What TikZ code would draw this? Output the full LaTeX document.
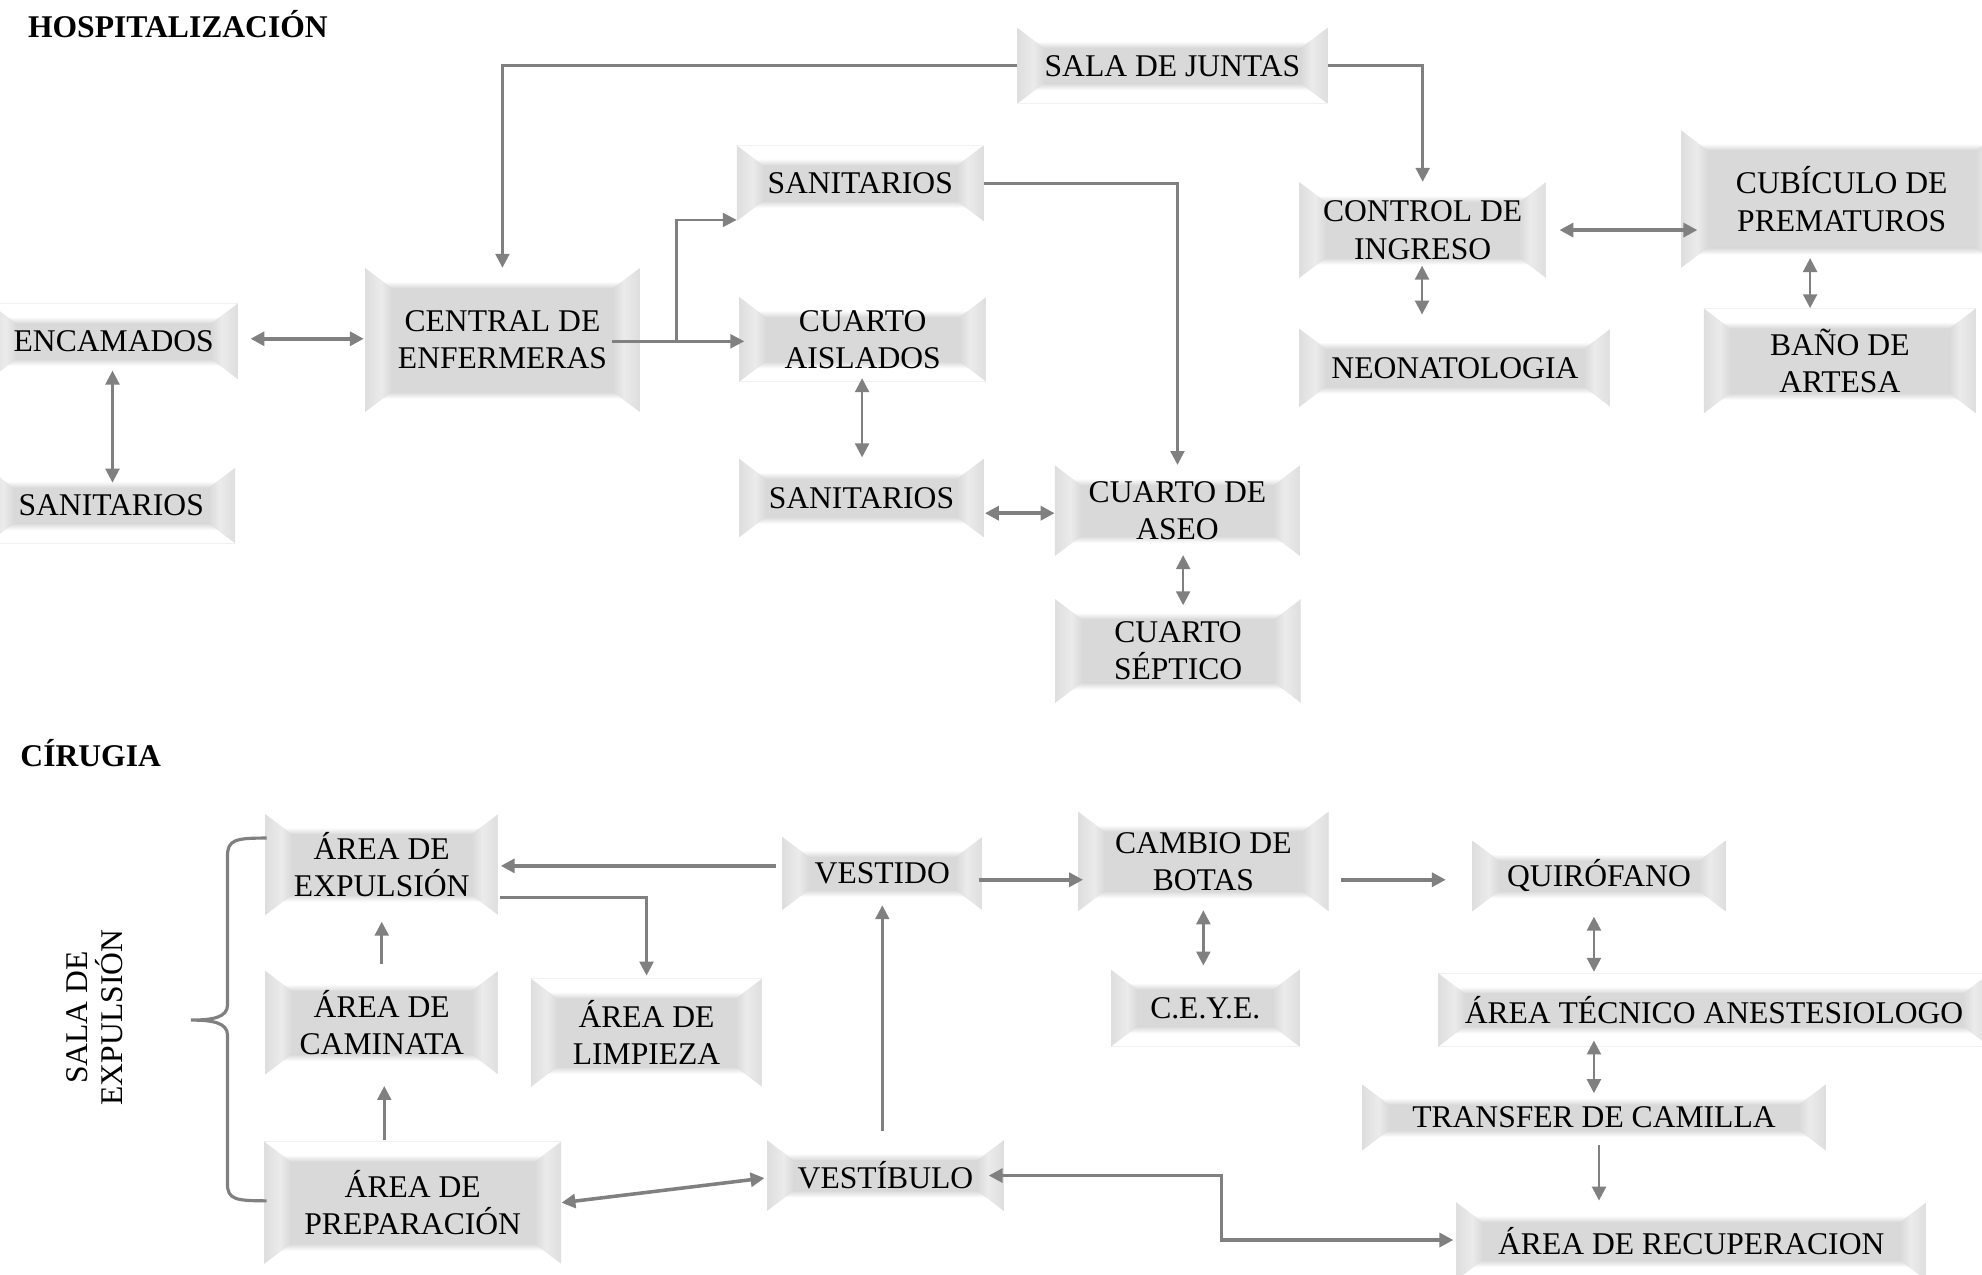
\documentclass[tikz,border=0pt]{standalone}
\usepackage{fontspec}
\setmainfont{Liberation Serif}
\usetikzlibrary{arrows.meta,calc}

\definecolor{boxgray}{RGB}{217,217,217}
\definecolor{sideout}{RGB}{222,222,222}
\definecolor{sidemid}{RGB}{235,235,235}
\definecolor{linegray}{RGB}{128,128,128}

% colour ramps for the four bevel bands (the band itself spans 25bp..75bp)
\pgfdeclareverticalshading{bandtop}{100bp}{color(0bp)=(boxgray); color(25bp)=(boxgray); color(42bp)=(white); color(100bp)=(white)}
\pgfdeclareverticalshading{bandbottom}{100bp}{color(0bp)=(white); color(58bp)=(white); color(75bp)=(boxgray); color(100bp)=(boxgray)}
\pgfdeclarehorizontalshading{bandleft}{100bp}{color(0bp)=(sideout); color(25bp)=(sideout); color(55bp)=(sidemid); color(75bp)=(boxgray); color(100bp)=(boxgray)}
\pgfdeclarehorizontalshading{bandright}{100bp}{color(0bp)=(boxgray); color(25bp)=(boxgray); color(45bp)=(sidemid); color(75bp)=(sideout); color(100bp)=(sideout)}

% Bevelled panel: flat grey centre, grey side bands, white top/bottom bands with a soft edge
\newcommand\bevelpaint{%
  \fill[boxgray] let \p1=(path picture bounding box.south west), \p2=(path picture bounding box.north east)
    in (\x1,\y1) rectangle (\x2,\y2);
  \shade[shading=bandleft] let \p1=(path picture bounding box.south west), \p2=(path picture bounding box.north east)
    in (\x1,\y1) -- (\x1+21pt,\y1+16pt) -- (\x1+21pt,\y2-16pt) -- (\x1,\y2) -- cycle;
  \shade[shading=bandright] let \p1=(path picture bounding box.south west), \p2=(path picture bounding box.north east)
    in (\x2,\y1) -- (\x2-21pt,\y1+16pt) -- (\x2-21pt,\y2-16pt) -- (\x2,\y2) -- cycle;
  \shade[shading=bandtop] let \p1=(path picture bounding box.south west), \p2=(path picture bounding box.north east)
    in (\x1,\y2) -- (\x2,\y2) -- (\x2-21pt,\y2-16pt) -- (\x1+21pt,\y2-16pt) -- cycle;
  \shade[shading=bandbottom] let \p1=(path picture bounding box.south west), \p2=(path picture bounding box.north east)
    in (\x1,\y1) -- (\x2,\y1) -- (\x2-21pt,\y1+16pt) -- (\x1+21pt,\y1+16pt) -- cycle;
}

\tikzset{
  bx/.style={inner sep=0pt, align=center, font=\fontsize{25}{29.5}\selectfont, path picture={\bevelpaint}},
  head/.style={font=\fontsize{25}{30}\selectfont\bfseries, inner sep=0pt},
  ln/.style={draw=linegray, line width=2pt},
  thk/.style={draw=linegray, line width=2.8pt},
  one/.style={-{Triangle[length=11pt,width=11pt]}},
  two/.style={{Triangle[length=11pt,width=11pt]}-{Triangle[length=11pt,width=11pt]}},
}

\begin{document}
\begin{tikzpicture}[x=1pt,y=-1pt]
\useasboundingbox (0,0) rectangle (1568,1008);

% ---------------- Hospitalizacion ----------------
\node[head, anchor=base west] (hhosp) at (22,30) {HOSPITALIZACIÓN};

\node[bx, minimum width=245, minimum height=60] (juntas) at (927.5,52) {SALA DE JUNTAS};
\node[bx, minimum width=217, minimum height=114] (central) at (397.5,269) {CENTRAL DE\\ENFERMERAS};
\node[bx, minimum width=196, minimum height=60] (encam) at (90,270) {ENCAMADOS};
\node[bx, minimum width=196, minimum height=60] (sanL) at (88,400) {SANITARIOS};
\node[bx, minimum width=195, minimum height=60] (sanT) at (680.5,145) {SANITARIOS};
\node[bx, minimum width=195, minimum height=67] (aisl) at (682.5,268.5) {CUARTO\\AISLADOS};
\node[bx, minimum width=193, minimum height=62] (sanM) at (681.5,394) {SANITARIOS};
\node[bx, minimum width=194, minimum height=72] (aseo) at (931.5,404) {CUARTO DE\\ASEO};
\node[bx, minimum width=194, minimum height=82] (sept) at (932,515) {CUARTO\\SÉPTICO};
\node[bx, minimum width=195, minimum height=76] (control) at (1125.5,182) {CONTROL DE\\INGRESO};
\node[bx, minimum width=246, minimum height=62] (neo) at (1151,291) {NEONATOLOGIA};
\node[bx, minimum width=254, minimum height=109] (cub) at (1457,157.5) {CUBÍCULO DE\\PREMATUROS};
\node[bx, minimum width=215, minimum height=83] (bano) at (1455.5,285.5) {BAÑO DE\\ARTESA};

\draw[ln,one] (juntas.west) -| (central.north);
\draw[ln,one] (juntas.east) -| (control.north);
\draw[thk,two] ($(encam.east)+(10,-2)$) -- ($(central.west)+(-1,-1)$);
\draw[ln,two] ($(encam.south)+(-1,-7)$) -- ($(sanL.north)+(1,12)$);

\coordinate (cbr) at ($(central.east)+(-22,1)$);
\coordinate (cfork) at ($(cbr)+(51,0)$);
\draw[ln,one] (cbr) -- ($(aisl.west |- cbr)+(4,0)$);
\draw[ln,one] (cfork) |- ($(sanT.west)+(0,29)$);

\draw[ln,one] (sanT.east) -| (aseo.north);
\draw[ln,two] ($(aisl.south)+(-0.5,-3)$) -- ($(aisl.south |- sanM.north)+(-0.5,-1)$);
\draw[thk,two] ($(sanM.east)+(1,12)$) -- ($(aseo.west)+(0,2)$);
\draw[ln,two] ($(aseo.south)+(4.5,-1)$) -- ($(sept.north)+(4,5)$);
\draw[thk,two] ($(control.east)+(10.5,0)$) -- ($(cub.west)+(13,24.5)$);
\draw[ln,two] ($(control.south)+(-0.5,-10)$) -- ($(control.south |- neo.north)+(-0.5,-11)$);
\draw[ln,two] ($(cub.south)+(-25,-8)$) -- ($(cub.south |- bano.north)+(-25,0)$);

% ---------------- Cirugia ----------------
\node[head, anchor=base west] (hcir) at (16,606) {CÍRUGIA};

\node[bx, minimum width=184, minimum height=80] (expul) at (302,684) {ÁREA DE\\EXPULSIÓN};
\node[bx, minimum width=184, minimum height=82] (camin) at (302,809) {ÁREA DE\\CAMINATA};
\node[bx, minimum width=183, minimum height=86] (limp) at (511.5,817) {ÁREA DE\\LIMPIEZA};
\node[bx, minimum width=235, minimum height=97] (prep) at (326.5,951.5) {ÁREA DE\\PREPARACIÓN};
\node[bx, minimum width=158, minimum height=58] (vestido) at (698,691) {VESTIDO};
\node[bx, minimum width=187, minimum height=56] (vestib) at (700.5,930) {VESTÍBULO};
\node[bx, minimum width=198, minimum height=79] (cambio) at (952,681.5) {CAMBIO DE\\BOTAS};
\node[bx, minimum width=149, minimum height=61] (ceye) at (953.5,797.5) {C.E.Y.E.};
\node[bx, minimum width=200, minimum height=56] (quiro) at (1265,693) {QUIRÓFANO};
\node[bx, minimum width=436, minimum height=58] (tec) at (1356,799) {ÁREA TÉCNICO ANESTESIOLOGO};
\node[bx, minimum width=366, minimum height=52] (transfer) at (1261,884) {TRANSFER DE CAMILLA};
\node[bx, minimum width=372, minimum height=62] (recup) at (1338,982) {ÁREA DE RECUPERACION};

\node[font=\fontsize{25}{28}\selectfont, align=center, rotate=90, inner sep=0pt] (salaexp) at (75,805) {SALA DE\\EXPULSIÓN};

% brace grouping the expulsion areas
\draw[linegray, line width=2.5pt]
  (211,663) .. controls (187,663) and (180,664) .. (180,677) -- (180,795)
  .. controls (180,805) and (168,807) .. (151,807)
  .. controls (168,807) and (180,809) .. (180,819) -- (180,937)
  .. controls (180,949) and (187,950) .. (211,950);

\draw[thk,one] ($(vestido.west)+(-5,-6)$) -- ($(expul.east)+(2,1)$);
\draw[ln,one] ($(expul.east)+(1,26)$) -| ($(limp.north)+(0,-2)$);
\draw[ln,one] ($(camin.north)+(0,-5)$) -- ($(expul.south)+(0,5)$);
\draw[ln,one] ($(prep.north)+(-22.5,-1)$) -- ($(camin.south)+(2,9)$);
\draw[thk,two] (prep.east) -- ($(vestib.west)+(-2,2)$);
\draw[ln,one] ($(vestib.north)+(-2.5,-7)$) -- ($(vestido.south)+(0,-4)$);
\draw[thk,one] ($(vestido.east)+(-3,5)$) -- ($(cambio.west)+(4,14.5)$);
\draw[thk,one] ($(cambio.east)+(10,14.5)$) -- ($(quiro.west)+(-21,3)$);
\draw[ln,two] ($(cambio.south)+(0,-1)$) -- ($(ceye.north)+(-1.5,-3)$);
\draw[ln,two] ($(quiro.south)+(-4,4)$) -- ($(tec.north)+(-95,-1)$);
\draw[ln,two] ($(tec.south)+(-95,-5)$) -- ($(transfer.north)+(0,7)$);
\draw[ln,one] ($(transfer.south)+(4,-4)$) -- ($(recup.north)+(-73,-1)$);
\draw[thk,two] ($(vestib.east)+(-12,0)$) -- ++(184,0) |- ($(recup.west)+(-2,-1)$);

\end{tikzpicture}
\end{document}
